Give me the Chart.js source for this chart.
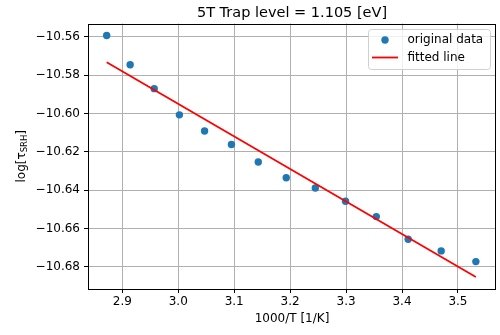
<!DOCTYPE html>
<html>
<head>
<meta charset="utf-8">
<script src="https://cdn.jsdelivr.net/npm/chart.js@4.4.0/dist/chart.umd.min.js"></script>
<style>
  html, body { margin: 0; padding: 0; background: #fff; }
  #wrap { width: 500px; height: 335px; position: relative; }
</style>
</head>
<body>
<div id="wrap"><canvas id="trap-chart"></canvas></div>
<script>
// measured points: 1000/T and log(tau_SRH)
const invTemp = [2.872, 2.914, 2.957, 3.002, 3.047, 3.095, 3.143, 3.193, 3.245, 3.299, 3.354, 3.411, 3.470, 3.532];
const logTau = [-10.5593, -10.5745, -10.5870, -10.6007, -10.6091, -10.6162, -10.6253, -10.6335, -10.6389, -10.6458, -10.6538, -10.6656, -10.6717, -10.6773];

// end points of the fitted line
const fitX = [2.872, 3.532];
const fitY = [-10.5732, -10.6853];

const xTicks = [2.9, 3.0, 3.1, 3.2, 3.3, 3.4, 3.5];
const yTicks = [-10.56, -10.58, -10.60, -10.62, -10.64, -10.66, -10.68];

const titleText = '5T Trap level = 1.105 [eV]';
const FONT = 'DejaVu Sans';
const BLUE = '#1f77b4';

const minus = s => s.replace('-', '\u2212');

// title centred over the plot area
const titlePlugin = {
    id: 'plotTitle',
    afterDraw(chart) {
        const { ctx, chartArea } = chart;
        ctx.save();
        ctx.fillStyle = '#000';
        ctx.font = '14.5px "' + FONT + '"';
        ctx.textAlign = 'center';
        ctx.textBaseline = 'alphabetic';
        ctx.fillText(titleText, (chartArea.left + chartArea.right) / 2, 17);
        ctx.restore();
    }
};

// y label with subscript: log[τ_SRH]
const yLabelPlugin = {
    id: 'yLabel',
    afterDraw(chart) {
        const { ctx, chartArea } = chart;
        const mainFont = '12px "' + FONT + '"';
        const subFont = '8.5px "' + FONT + '"';
        ctx.save();
        ctx.translate(24.5, (chartArea.top + chartArea.bottom) / 2);
        ctx.rotate(-Math.PI / 2);
        ctx.fillStyle = '#000';
        ctx.textBaseline = 'alphabetic';
        ctx.textAlign = 'left';
        ctx.font = mainFont;
        const w1 = ctx.measureText('log[τ').width;
        const w3 = ctx.measureText(']').width;
        ctx.font = subFont;
        const w2 = ctx.measureText('SRH').width;
        let x = -(w1 + w2 + w3) / 2;
        ctx.font = mainFont;
        ctx.fillText('log[τ', x, 0);
        x += w1;
        ctx.font = subFont;
        ctx.fillText('SRH', x, 2.5);
        x += w2;
        ctx.font = mainFont;
        ctx.fillText(']', x, 0);
        ctx.restore();
    }
};

// black frame around the axes
const framePlugin = {
    id: 'frame',
    afterDatasetsDraw(chart) {
        const { ctx, chartArea: a } = chart;
        ctx.save();
        ctx.strokeStyle = '#000';
        ctx.lineWidth = 1;
        ctx.strokeRect(Math.round(a.left) + 0.5, Math.round(a.top) + 0.5,
            Math.round(a.right - a.left) - 1, Math.round(a.bottom - a.top) - 1);
        ctx.restore();
    }
};

// legend box in the upper right corner
const legendPlugin = {
    id: 'boxLegend',
    afterDraw(chart) {
        const { ctx, chartArea: a } = chart;
        const right = a.right - 6, top = a.top + 5.5;
        const w = 122, h = 40;
        const left = right - w;
        ctx.save();
        ctx.fillStyle = 'rgba(255,255,255,0.8)';
        ctx.strokeStyle = '#d0d0d0';
        ctx.lineWidth = 1;
        ctx.beginPath();
        ctx.roundRect(left + 0.5, top + 0.5, w, h, 3);
        ctx.fill();
        ctx.stroke();

        const pts = chart.data.datasets[1];
        const fit = chart.data.datasets[0];
        ctx.fillStyle = pts.backgroundColor;
        ctx.beginPath();
        ctx.arc(left + 17, top + 11, pts.pointRadius, 0, Math.PI * 2);
        ctx.fill();

        ctx.strokeStyle = fit.borderColor;
        ctx.lineWidth = fit.borderWidth;
        ctx.beginPath();
        ctx.moveTo(left + 4, top + 28.5);
        ctx.lineTo(left + 30, top + 28.5);
        ctx.stroke();

        ctx.fillStyle = '#000';
        ctx.font = '12px "' + FONT + '"';
        ctx.textBaseline = 'middle';
        ctx.fillText(pts.label, left + 39.5, top + 11);
        ctx.fillText(fit.label, left + 39.5, top + 28.5);
        ctx.restore();
    }
};

const ctx = document.getElementById('trap-chart').getContext('2d');
const trapChart = new Chart(ctx, {
    type: 'scatter',
    data: {
        datasets: [{
            label: 'fitted line',
            data: fitX.map((x, i) => ({ x: x, y: fitY[i] })),
            showLine: true,
            borderColor: '#ff0000',
            borderWidth: 1.8,
            pointRadius: 0,
            order: 0
        }, {
            label: 'original data',
            data: invTemp.map((x, i) => ({ x: x, y: logTau[i] })),
            backgroundColor: BLUE,
            borderWidth: 0,
            pointRadius: 3.7,
            order: 1
        }]
    },
    options: {
        responsive: true,
        maintainAspectRatio: false,
        animation: false,
        layout: { padding: { top: 23.5, right: 2, left: 0, bottom: 0 } },
        plugins: {
            legend: { display: false },
            tooltip: { enabled: false }
        },
        scales: {
            x: {
                type: 'linear',
                min: 2.8386,
                max: 3.568,
                afterBuildTicks: s => { s.ticks = xTicks.map(v => ({ value: v })); },
                afterFit: s => { s.height = 46; },
                border: { display: false },
                grid: { color: '#b0b0b0', lineWidth: 1, tickColor: '#000', tickLength: 4 },
                ticks: {
                    color: '#000',
                    font: { family: FONT, size: 12 },
                    padding: 2,
                    maxRotation: 0,
                    callback: v => v.toFixed(1)
                },
                title: {
                    display: true,
                    text: '1000/T [1/K]',
                    color: '#000',
                    font: { family: FONT, size: 12 },
                    padding: { top: 0, bottom: 9 }
                }
            },
            y: {
                type: 'linear',
                min: -10.6916,
                max: -10.553,
                afterBuildTicks: s => { s.ticks = yTicks.map(v => ({ value: v })); },
                afterFit: s => { s.width = 88; },
                border: { display: false },
                grid: { color: '#b0b0b0', lineWidth: 1, tickColor: '#000', tickLength: 4 },
                ticks: {
                    color: '#000',
                    font: { family: FONT, size: 12 },
                    padding: 4,
                    callback: v => minus(v.toFixed(2))
                }
            }
        }
    },
    plugins: [framePlugin, titlePlugin, yLabelPlugin, legendPlugin]
});
</script>
</body>
</html>
